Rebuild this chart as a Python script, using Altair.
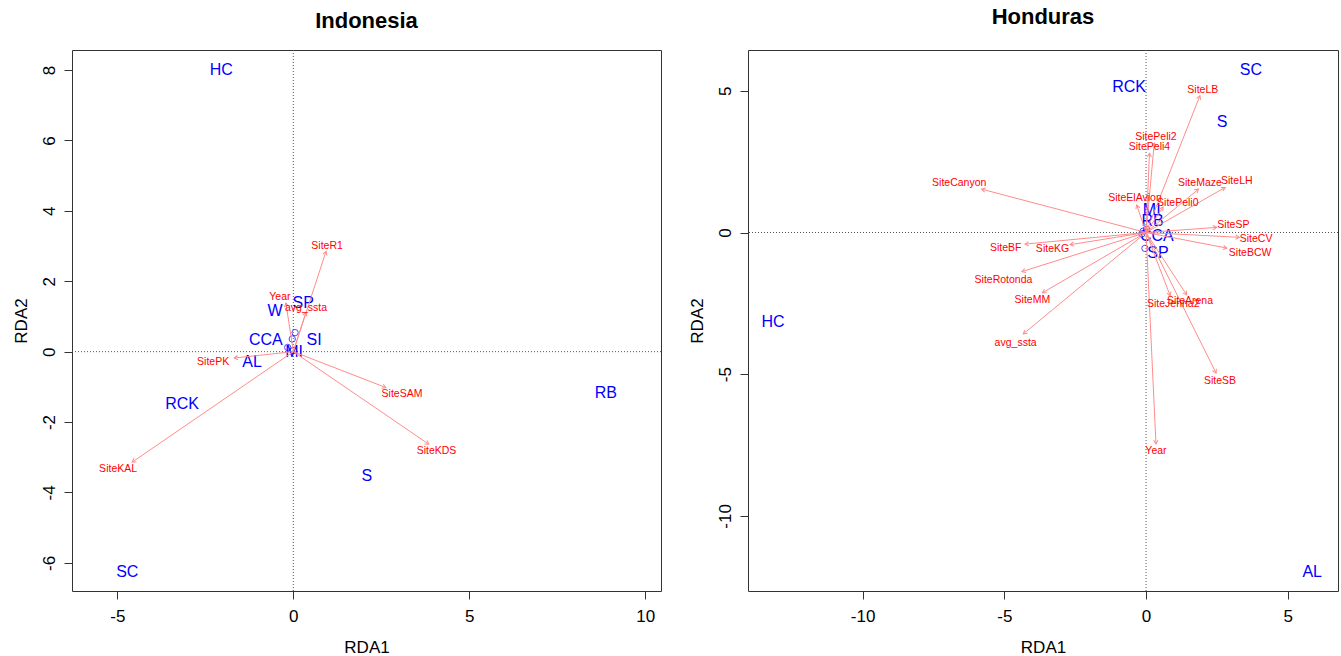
import math
import altair as alt
import pandas as pd

# ---------------- Indonesia ----------------
idn_species = ["HC", "SP", "W", "CCA", "SI", "AL", "MI", "RCK", "RB", "S", "SC"]
idn_species_x = [-2.05, 0.28, -0.52, -0.78, 0.59, -1.17, 0.02, -3.16, 8.88, 2.09, -4.72]
idn_species_y = [8.00, 1.38, 1.15, 0.33, 0.33, -0.30, -0.01, -1.49, -1.18, -3.53, -6.26]

idn_vars = ["SiteR1", "Year", "avg_ssta", "SitePK", "SiteSAM", "SiteKDS", "SiteKAL"]
idn_tip_x = [0.93, -0.21, 0.36, -1.68, 2.63, 3.85, -4.58]
idn_tip_y = [2.85, 1.38, 1.12, -0.18, -1.02, -2.63, -3.14]
idn_lab_x = [0.96, -0.38, 0.36, -2.28, 3.09, 4.07, -4.98]
idn_lab_y = [3.00, 1.56, 1.24, -0.30, -1.20, -2.82, -3.34]

idn_site_x = [0.05, -0.03, -0.16, 0.00]
idn_site_y = [0.54, 0.36, 0.12, 0.03]

# ---------------- Honduras ----------------
hnd_species = ["SC", "RCK", "S", "HC", "AL", "MI", "RB", "CCA", "SP"]
hnd_species_x = [3.70, -0.60, 2.68, -13.16, 5.86, 0.20, 0.23, 0.38, 0.42]
hnd_species_y = [5.73, 5.13, 3.90, -3.16, -11.98, 0.78, 0.39, -0.11, -0.72]

hnd_vars = ["SiteLB", "SitePeli2", "SitePeli4", "SiteCanyon", "SiteMaze", "SiteLH",
            "SiteElAvion", "SitePeli0", "SiteSP", "SiteCV", "SiteBCW", "SiteBF",
            "SiteKG", "SiteRotonda", "SiteMM", "avg_ssta", "SiteSB", "Year",
            "SiteArena", "SiteJenna2"]
hnd_tip_x = [1.90, 0.29, 0.12, -5.80, 1.85, 2.79, -0.33, 0.60, 2.49, 3.29, 2.85, -4.27,
             -2.68, -4.38, -3.66, -4.33, 2.47, 0.35, 1.43, 0.85]
hnd_tip_y = [4.83, 3.16, 2.80, 1.53, 1.53, 1.59, 0.97, 0.90, 0.18, -0.17, -0.55, -0.41,
             -0.43, -1.38, -2.13, -3.58, -4.96, -7.46, -2.20, -2.23]
hnd_lab_x = [2.00, 0.35, 0.12, -6.59, 1.90, 3.20, -0.39, 1.12, 3.08, 3.88, 3.67, -4.95,
             -3.30, -5.03, -4.01, -4.60, 2.61, 0.35, 1.55, 0.96]
hnd_lab_y = [5.02, 3.38, 3.00, 1.75, 1.73, 1.80, 1.21, 1.03, 0.28, -0.23, -0.72, -0.55,
             -0.58, -1.66, -2.38, -3.90, -5.24, -7.70, -2.40, -2.52]

hnd_site_x = [-0.15, -0.04, 0.02, -0.10]
hnd_site_y = [-0.05, -0.56, 0.12, 0.05]

FONT = "Liberation Sans"
BLUE = "#0000FF"
RED = "#FF0000"
ARROW = "#FF8C8C"
# open "V" arrow head, tip at the symbol origin, pointing up
HEAD = "M-0.55,0.95L0,0L0.55,0.95"
# plain hyphen-minus in tick labels
PLAIN = "'' + datum.value"


def panel(title, sp, spx, spy, vars_, tx, ty, lx, ly, sx, sy,
          xdom, ydom, xticks, yticks, w, h, title_offset):
    species = pd.DataFrame({"name": sp, "x": spx, "y": spy})
    arrows = pd.DataFrame({"name": vars_, "tx": tx, "ty": ty, "lx": lx, "ly": ly,
                           "ox": [0.0] * len(vars_), "oy": [0.0] * len(vars_)})
    arrows["ang"] = [math.degrees(math.atan2(a, b)) % 360 for a, b in zip(tx, ty)]
    sites = pd.DataFrame({"x": sx, "y": sy})
    zero = pd.DataFrame({"v": [0.0]})

    xs = alt.Scale(domain=xdom, nice=False, zero=False)
    ys = alt.Scale(domain=ydom, nice=False, zero=False)
    xa = alt.Axis(values=xticks, title="RDA1", labelExpr=PLAIN,
                  labelPadding=9, titlePadding=15)
    ya = alt.Axis(values=yticks, title="RDA2", labelExpr=PLAIN, labelAngle=270,
                  labelPadding=6, titlePadding=10)

    def X(f):
        return alt.X(f, type="quantitative", scale=xs, axis=xa)

    def Y(f):
        return alt.Y(f, type="quantitative", scale=ys, axis=ya)

    hline = alt.Chart(zero).mark_rule(color="#555555", strokeDash=[1, 2], strokeWidth=1).encode(y=Y("v"))
    vline = alt.Chart(zero).mark_rule(color="#555555", strokeDash=[1, 2], strokeWidth=1).encode(x=X("v"))

    pts = alt.Chart(sites).mark_point(shape="circle", filled=False, color=BLUE,
                                      size=40, strokeWidth=1).encode(x=X("x"), y=Y("y"))
    sp_text = alt.Chart(species).mark_text(color=BLUE, font=FONT, fontSize=16).encode(
        x=X("x"), y=Y("y"), text="name:N")
    shafts = alt.Chart(arrows).mark_rule(color=ARROW, strokeWidth=1).encode(
        x=X("ox"), y=Y("oy"), x2="tx", y2="ty")
    heads = alt.Chart(arrows).mark_point(shape=HEAD, filled=False, color=ARROW,
                                         size=60, strokeWidth=1, opacity=1).encode(
        x=X("tx"), y=Y("ty"), angle=alt.Angle("ang:Q", scale=None))
    labels = alt.Chart(arrows).mark_text(color=RED, font=FONT, fontSize=10.5).encode(
        x=X("lx"), y=Y("ly"), text="name:N")

    return alt.layer(hline, vline, pts, sp_text, shafts, heads, labels).properties(
        width=w, height=h,
        title=alt.TitleParams(title, font=FONT, fontSize=22, fontWeight="bold",
                              anchor="middle", offset=title_offset, color="black"))


left = panel("Indonesia", idn_species, idn_species_x, idn_species_y,
             idn_vars, idn_tip_x, idn_tip_y, idn_lab_x, idn_lab_y,
             idn_site_x, idn_site_y,
             [-6.29, 10.45], [-6.80, 8.57], [-5, 0, 5, 10], [-6, -4, -2, 0, 2, 4, 6, 8],
             589, 541, 17)

right = panel("Honduras", hnd_species, hnd_species_x, hnd_species_y,
              hnd_vars, hnd_tip_x, hnd_tip_y, hnd_lab_x, hnd_lab_y,
              hnd_site_x, hnd_site_y,
              [-14.04, 6.77], [-12.65, 6.44], [-10, -5, 0, 5], [-10, -5, 0, 5],
              590, 541, 21)

chart = alt.hconcat(left, right, spacing=25).properties(
    padding={"left": 11, "top": 5, "right": 0, "bottom": 0},
    background="white"
).configure_view(
    stroke="#333333", strokeWidth=1
).configure_axis(
    grid=False, domain=False, tickSize=8, tickColor="#333333",
    labelFont=FONT, labelFontSize=17, labelColor="black",
    titleFont=FONT, titleFontSize=17, titleFontWeight="normal", titleColor="black"
)

chart.save("out.html", embed_options={"renderer": "svg", "actions": False})
